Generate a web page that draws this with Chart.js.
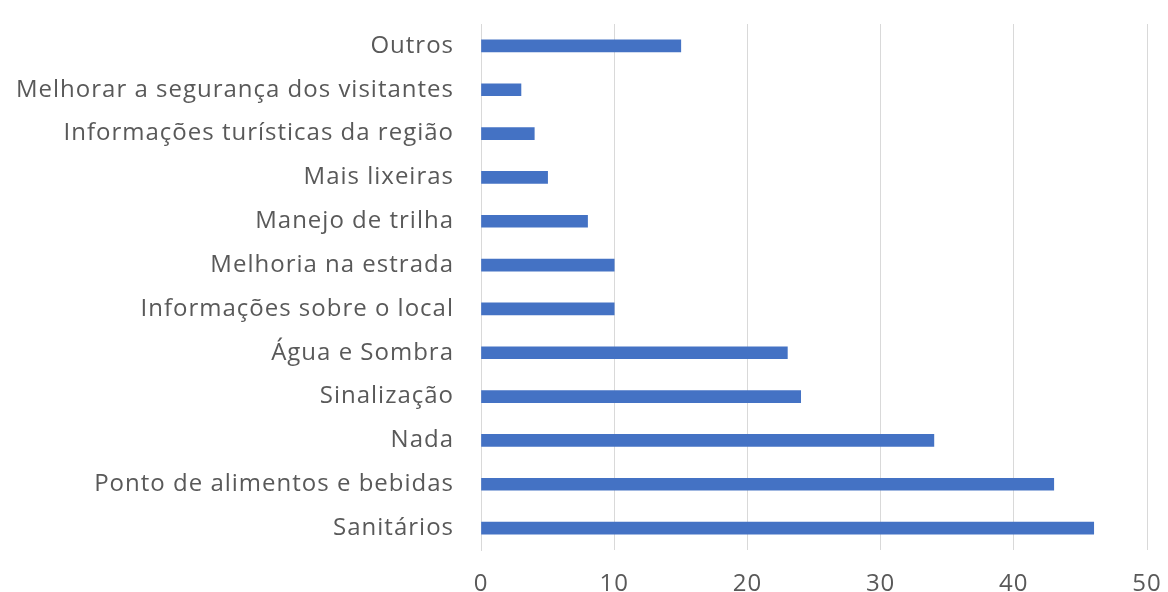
<!DOCTYPE html>
<html>
<head>
<meta charset="utf-8">
<script src="https://cdn.jsdelivr.net/npm/chart.js@4"></script>
<style>
  html, body { margin: 0; padding: 0; background: #fff; }
  #wrap { width: 1168px; height: 592px; }
</style>
</head>
<body>
<div id="wrap"><canvas id="chart" width="1168" height="592"></canvas></div>
<script>
// categories, top to bottom as in the picture
const categories = [
    'Outros',
    'Melhorar a segurança dos visitantes',
    'Informações turísticas da região',
    'Mais lixeiras',
    'Manejo de trilha',
    'Melhoria na estrada',
    'Informações sobre o local',
    'Água e Sombra',
    'Sinalização',
    'Nada',
    'Ponto de alimentos e bebidas',
    'Sanitários'
];
const counts = [15, 3, 4, 5, 8, 10, 10, 23, 24, 34, 43, 46];
const xTicks = [0, 10, 20, 30, 40, 50];

// the reference text is wide, so open the letters up a little
const spacing = {
    id: 'spacing',
    beforeDraw(chart) { chart.ctx.letterSpacing = '1px'; }
};

const tickFont = { family: 'Open Sans', size: 24 };

new Chart(document.getElementById('chart'), {
    type: 'bar',
    data: {
        labels: categories,
        datasets: [{
            data: counts,
            backgroundColor: '#4472C4',
            barThickness: 12
        }]
    },
    plugins: [spacing],
    options: {
        indexAxis: 'y',
        responsive: false,
        animation: false,
        layout: { padding: { top: 24, right: 21, left: 0, bottom: 0 } },
        plugins: {
            legend: { display: false },
            tooltip: { enabled: false }
        },
        scales: {
            x: {
                min: xTicks[0],
                max: xTicks[xTicks.length - 1],
                afterBuildTicks: s => { s.ticks = xTicks.map(v => ({ value: v })); },
                afterFit: s => {
                    s.height = 42;
                    s.paddingLeft = 0;
                    s.paddingRight = 0;
                },
                grid: { color: '#d9d9d9', drawTicks: false },
                border: { display: false },
                ticks: { color: '#595959', font: tickFont, padding: 20 }
            },
            y: {
                afterFit: s => {
                    s.width = 481;
                    s.paddingTop = 0;
                    s.paddingBottom = 0;
                },
                grid: { display: false, drawTicks: false },
                border: { display: true, color: '#d9d9d9' },
                ticks: { color: '#595959', font: tickFont, padding: 27, autoSkip: false }
            }
        }
    }
});
</script>
</body>
</html>
